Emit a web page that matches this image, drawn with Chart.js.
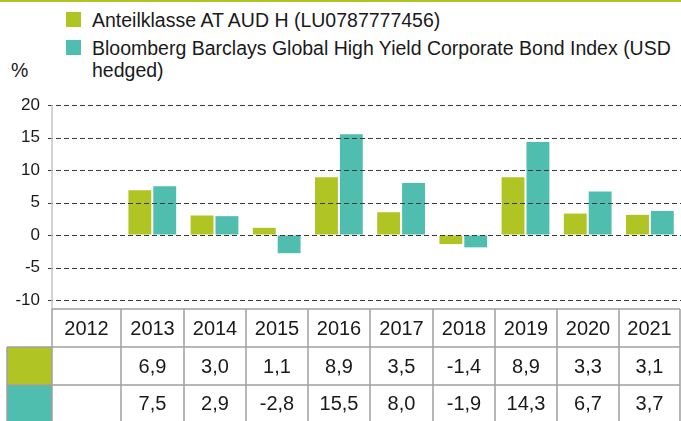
<!DOCTYPE html>
<html><head><meta charset="utf-8">
<script src="https://cdn.jsdelivr.net/npm/chart.js@4/dist/chart.umd.min.js"></script>
<style>
html,body{margin:0;padding:0;background:#fff;}
#wrap{position:relative;width:681px;height:421px;overflow:hidden;font-family:"Liberation Sans",Arial,sans-serif;color:#1a1a1a;}
#topbar{position:absolute;left:0;top:0;width:681px;height:2px;background:#b0c423;}
.li{position:absolute;left:66px;width:615px;font-size:19.5px;line-height:22px;}
.li .tx{position:absolute;left:26px;top:0;width:589px;}
.sw{position:absolute;left:0;top:3px;width:15px;height:15px;}
#pct{position:absolute;left:11px;top:59px;font-size:19.5px;line-height:22px;}
canvas{position:absolute;left:0;top:0;}
</style></head>
<body><div id="wrap"><div id="topbar"></div><div id="legend"></div><div id="pct">%</div><canvas id="c" width="681" height="421"></canvas></div>
<script>
const categories = ["2012","2013","2014","2015","2016","2017","2018","2019","2020","2021"];
const seriesNames = ["Anteilklasse AT AUD H (LU0787777456)","Bloomberg Barclays Global High Yield Corporate Bond Index (USD hedged)"];
const fundValues = [null, 6.9, 3.0, 1.1, 8.9, 3.5, -1.4, 8.9, 3.3, 3.1];
const indexValues = [null, 7.5, 2.9, -2.8, 15.5, 8.0, -1.9, 14.3, 6.7, 3.7];
const yTicks = [-10, -5, 0, 5, 10, 15, 20];
const colors = ["#b0c423", "#50beaf"];

// legend
const lg = document.getElementById('legend');
const legendTops = [9, 37];
seriesNames.forEach((n,i)=>{
  const d=document.createElement('div'); d.className='li'; d.style.top = legendTops[i]+'px';
  const sw=document.createElement('span'); sw.className='sw'; sw.style.background=colors[i];
  const tx=document.createElement('span'); tx.className='tx'; tx.textContent=n;
  d.appendChild(sw); d.appendChild(tx);
  lg.appendChild(d);
});

const fmt = v => v==null ? "" : v.toFixed(1).replace('.', ',');
const colX = [7, 52, 121, 184, 246, 308, 370, 433, 495, 557, 619, 680];
const rowY = [309, 347, 385, 430];

const gridPlugin = {
  id:'dashgrid',
  afterDatasetsDraw(chart){
    const ctx = chart.ctx, y = chart.scales.y;
    ctx.save();
    ctx.strokeStyle = '#3a3a3a'; ctx.lineWidth = 1; ctx.setLineDash([5,3]);
    y.ticks.forEach(t=>{
      const py = Math.round(y.getPixelForValue(t.value)) + 0.5;
      ctx.beginPath(); ctx.moveTo(48, py); ctx.lineTo(chart.chartArea.right, py); ctx.stroke();
    });
    ctx.restore();
  }
};

const tablePlugin = {
  id:'table',
  afterDraw(chart){
    const ctx = chart.ctx;
    const y = chart.scales.y;
    ctx.save();
    // y axis line
    ctx.strokeStyle = '#c4c4c4'; ctx.lineWidth = 1.5;
    ctx.beginPath(); ctx.moveTo(52, y.top); ctx.lineTo(52, rowY[0]); ctx.stroke();
    // swatches
    ctx.fillStyle = colors[0]; ctx.fillRect(colX[0], rowY[1], colX[1]-colX[0], rowY[2]-rowY[1]);
    ctx.fillStyle = colors[1]; ctx.fillRect(colX[0], rowY[2], colX[1]-colX[0], rowY[3]-rowY[2]);
    // borders
    ctx.strokeStyle = '#a0a0a0'; ctx.lineWidth = 1.5;
    ctx.beginPath();
    ctx.moveTo(colX[1], rowY[0]); ctx.lineTo(colX[11], rowY[0]);
    ctx.moveTo(colX[0], rowY[1]); ctx.lineTo(colX[11], rowY[1]);
    ctx.moveTo(colX[0], rowY[2]); ctx.lineTo(colX[11], rowY[2]);
    ctx.moveTo(colX[0], rowY[1]); ctx.lineTo(colX[0], rowY[3]);
    for (let i=1;i<colX.length;i++){ ctx.moveTo(colX[i], rowY[0]); ctx.lineTo(colX[i], rowY[3]); }
    ctx.stroke();
    // text
    ctx.fillStyle = '#1a1a1a';
    ctx.font = '20px "Liberation Sans", Arial, sans-serif';
    ctx.textAlign = 'center'; ctx.textBaseline = 'middle';
    const rows = [categories, fundValues.map(fmt), indexValues.map(fmt)];
    rows.forEach((r,ri)=>{
      const cy = ri===2 ? 404 : (rowY[ri]+rowY[ri+1])/2 + 1;
      r.forEach((t,ci)=>{
        ctx.fillText(t, (colX[ci+1]+colX[ci+2])/2, cy);
      });
    });
    ctx.restore();
  }
};

new Chart(document.getElementById('c'), {
  type:'bar',
  data:{
    labels: categories,
    datasets: seriesNames.map((n,i)=>({
      label:n, data: i===0?fundValues:indexValues, backgroundColor: colors[i],
      borderWidth:0, barPercentage:0.92, categoryPercentage:0.8
    }))
  },
  options:{
    responsive:false, animation:false,
    layout:{padding:{top:105,bottom:121,left:0,right:0}},
    plugins:{legend:{display:false}, tooltip:{enabled:false}},
    scales:{
      x:{display:false},
      y:{
        min:-10, max:20,
        afterBuildTicks(s){ s.ticks = yTicks.map(v=>({value:v})); },
        afterFit(s){ s.width = 59; },
        ticks:{color:'#1a1a1a', padding:8, font:{size:17, family:'"Liberation Sans", Arial, sans-serif'}},
        grid:{color:'rgba(0,0,0,0)', lineWidth:1, tickLength:11, tickColor:'rgba(0,0,0,0)'},
        border:{display:false}
      }
    }
  },
  plugins:[gridPlugin, tablePlugin]
});
</script></body></html>
